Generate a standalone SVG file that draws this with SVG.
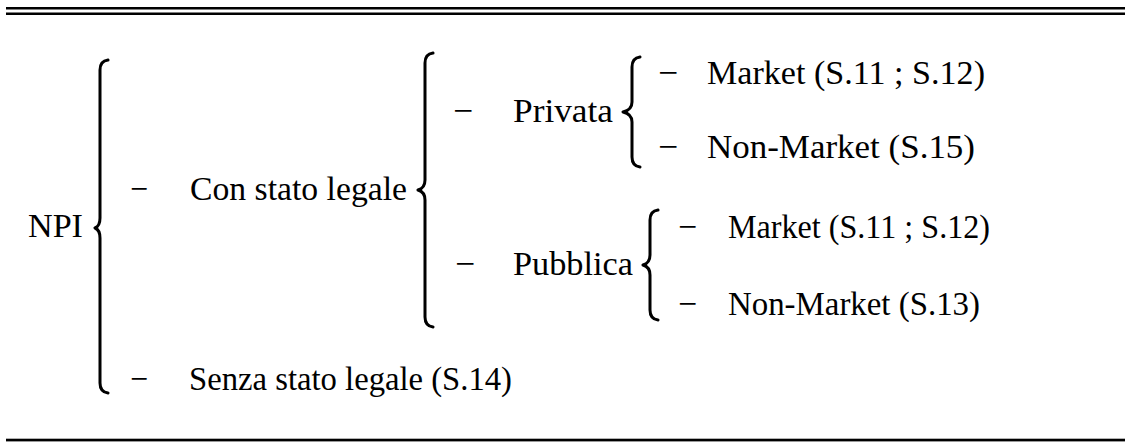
<svg xmlns="http://www.w3.org/2000/svg" width="1125" height="443" viewBox="0 0 1125 443">
<style>
text{font-family:"Liberation Serif","DejaVu Serif","Times New Roman",serif;font-size:34px;fill:#000}
.br{fill:none;stroke:#000;stroke-width:3;stroke-linecap:round;stroke-linejoin:round}
.rule{fill:#000}
</style>
<rect width="1125" height="443" fill="#fff"/>
<g id="rules">
<rect class="rule" x="6" y="7" width="1119" height="2.5"/>
<rect class="rule" x="6" y="12.5" width="1119" height="2.5"/>
<rect class="rule" x="6" y="438.7" width="1119" height="2.7"/>
</g>
<g id="connectors">
<path class="br" d="M108,60 Q100,61 100,70 L100,218 Q100,226 95,228 Q100,230 100,238 L100,383 Q100,392 108,393"/>
<path class="br" d="M433,53 Q425,54 425,63 L425,180 Q425,188 418,190 Q425,192 425,200 L425,317 Q425,326 433,327"/>
<path class="br" d="M640,57 Q632,58 632,67 L632,102 Q632,110 623,112 Q632,114 632,122 L632,157 Q632,166 640,167"/>
<path class="br" d="M658,210 Q650,211 650,220 L650,255 Q650,263 643,265 Q650,267 650,275 L650,310 Q650,319 658,320"/>
</g>
<g id="npi"><text x="28" y="237" textLength="55" lengthAdjust="spacingAndGlyphs">NPI</text></g>
<g id="con">
<text x="130" y="200" textLength="18" lengthAdjust="spacingAndGlyphs">−</text>
<text x="190" y="200" textLength="217" lengthAdjust="spacingAndGlyphs">Con stato legale</text>
</g>
<g id="senza">
<text x="130" y="390" textLength="18" lengthAdjust="spacingAndGlyphs">−</text>
<text x="189" y="390" textLength="323" lengthAdjust="spacingAndGlyphs">Senza stato legale (S.14)</text>
</g>
<g id="privata">
<text x="453" y="122" textLength="20" lengthAdjust="spacingAndGlyphs">−</text>
<text x="513" y="122" textLength="100" lengthAdjust="spacingAndGlyphs">Privata</text>
</g>
<g id="pubblica">
<text x="455" y="275" textLength="20" lengthAdjust="spacingAndGlyphs">−</text>
<text x="513" y="275" textLength="120" lengthAdjust="spacingAndGlyphs">Pubblica</text>
</g>
<g id="priv-market">
<text x="658" y="84" textLength="20" lengthAdjust="spacingAndGlyphs">−</text>
<text x="707" y="84" textLength="278" lengthAdjust="spacingAndGlyphs">Market (S.11 ; S.12)</text>
</g>
<g id="priv-nonmarket">
<text x="658" y="158" textLength="20" lengthAdjust="spacingAndGlyphs">−</text>
<text x="707" y="158" textLength="268" lengthAdjust="spacingAndGlyphs">Non-Market (S.15)</text>
</g>
<g id="pubb-market">
<text x="678" y="238" textLength="19" lengthAdjust="spacingAndGlyphs">−</text>
<text x="728" y="238" textLength="262" lengthAdjust="spacingAndGlyphs">Market (S.11 ; S.12)</text>
</g>
<g id="pubb-nonmarket">
<text x="678" y="315" textLength="19" lengthAdjust="spacingAndGlyphs">−</text>
<text x="728" y="315" textLength="252" lengthAdjust="spacingAndGlyphs">Non-Market (S.13)</text>
</g>
</svg>
